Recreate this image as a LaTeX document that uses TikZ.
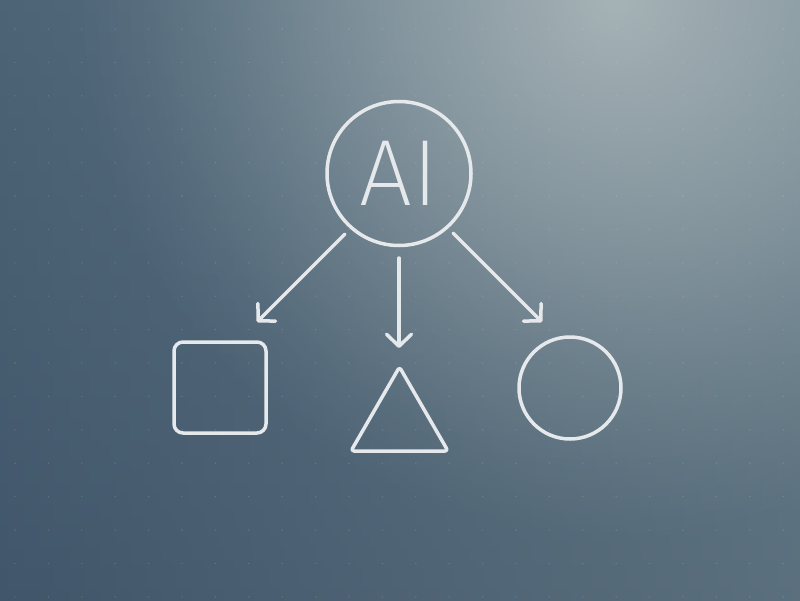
\documentclass[tikz,border=0pt]{standalone}
\usepackage{fontspec}
\newfontfamily\aifont{Fira Sans}[UprightFont=* ExtraLight]
\usetikzlibrary{arrows.meta,shapes.geometric,fadings}
\definecolor{inkc}{HTML}{E6E9EC}
\definecolor{hleft}{HTML}{41566A}
\definecolor{hright}{HTML}{768A92}
\definecolor{vtop}{HTML}{587283}
\definecolor{vbot}{HTML}{41566A}
\definecolor{glowc}{HTML}{BCC5C6}
\pgfdeclareradialshading{glowfadeshade}{\pgfpoint{0bp}{0bp}}{%
  rgb(0bp)=(0.76,0.76,0.76);
  rgb(5bp)=(0.60,0.60,0.60);
  rgb(9.5bp)=(0.46,0.46,0.46);
  rgb(13bp)=(0.34,0.34,0.34);
  rgb(17bp)=(0.20,0.20,0.20);
  rgb(21.5bp)=(0.07,0.07,0.07);
  rgb(25bp)=(0,0,0);
  rgb(50bp)=(0,0,0)}
\pgfdeclarefading{glowfade}{\pgfuseshading{glowfadeshade}}
\tikzset{
  ink/.style={draw=inkc, line width=3.5pt, line cap=round, line join=round},
  arr/.style={ink, -{Straight Barb[length=12pt,width=25pt,round]}},
  gridpt/.style={fill=white, opacity=0.14},
}
\begin{document}
\begin{tikzpicture}[x=1pt,y=-1pt]
  \useasboundingbox (0,0) rectangle (800,600);
  \shade[left color=hleft, right color=hright] (0,0) rectangle (800,600);
  \shade[top color=vtop, bottom color=vbot, opacity=0.5] (0,0) rectangle (800,600);
  \begin{scope}
    \clip (0,0) rectangle (800,600);
    \fill[glowc, path fading=glowfade] (615,0) circle (540);
  \end{scope}
  \foreach \i in {0,...,23}{
    \foreach \j in {0,...,17}{
      \fill[gridpt] ({15+33.4*\i},{29+33.4*\j}) circle (0.8);
    }
  }
  \node[ink, circle, minimum size=144pt, inner sep=0pt, text=inkc, font=\aifont\fontsize{94}{94}\selectfont] (ai) at (399,173.5) {AI};
  \node[ink, rectangle, rounded corners=9pt, minimum width=92pt, minimum height=91pt, inner sep=0pt] (sq) at (220,387.5) {};
  \node[ink, regular polygon, regular polygon sides=3, minimum size=112pt, inner sep=0pt, rounded corners=3pt] (tri) at (399.5,423) {};
  \node[ink, circle, minimum size=102pt, inner sep=0pt] (ci) at (570,388) {};
  \coordinate (s1) at (345,234);
  \coordinate (t1) at (257,322);
  \coordinate (s2) at (399,258);
  \coordinate (t2) at (399,348);
  \coordinate (s3) at (453,233);
  \coordinate (t3) at (542,322);
  \draw[arr] (s1) -- (t1);
  \draw[arr] (s2) -- (t2);
  \draw[arr] (s3) -- (t3);
\end{tikzpicture}
\end{document}
